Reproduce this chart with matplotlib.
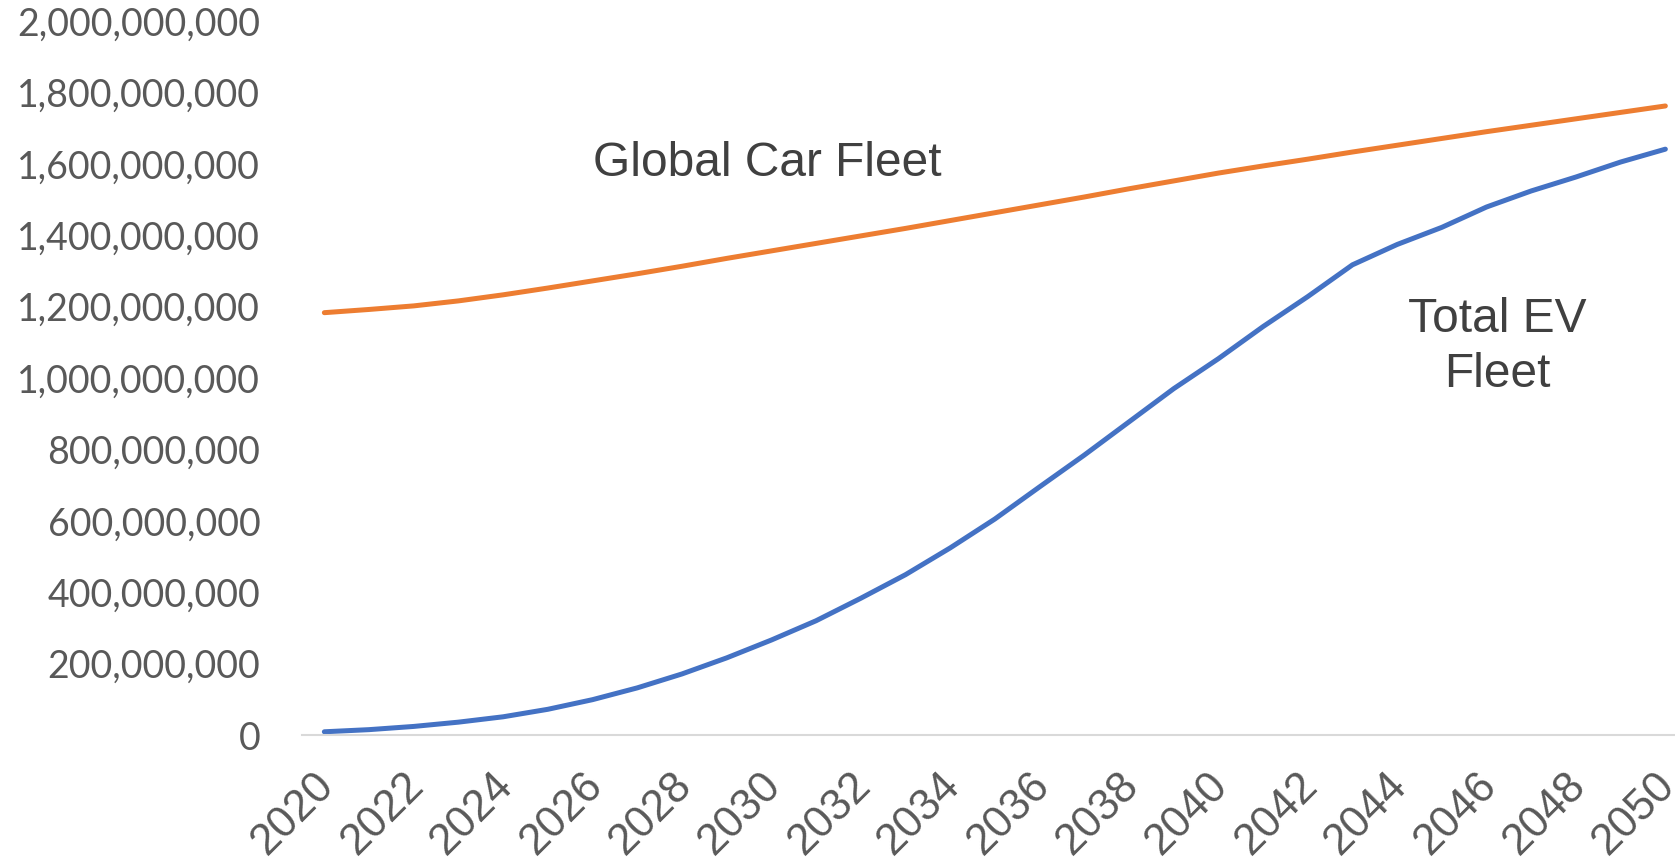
import matplotlib.pyplot as plt
import matplotlib.transforms as mtransforms
from matplotlib.ticker import FuncFormatter, MultipleLocator

years = list(range(2020, 2051))

# Global car fleet, millions of vehicles
global_fleet_m = [1183, 1192, 1202, 1216, 1233, 1252, 1272, 1292, 1313, 1335,
                  1356, 1377, 1398, 1419, 1441, 1463, 1485, 1507, 1530, 1552,
                  1574, 1594, 1613, 1633, 1652, 1671, 1690, 1708, 1726, 1744,
                  1762]

# Total EV fleet, millions of vehicles
ev_fleet_m = [9, 15, 24, 36, 51, 72, 99, 132, 171, 216,
              266, 320, 383, 449, 524, 605, 695, 784, 877, 970,
              1054, 1144, 1228, 1317, 1374, 1422, 1479, 1524, 1563, 1605,
              1641]

xtick_years = list(range(2020, 2051, 2))

global_fleet = [v * 1e6 for v in global_fleet_m]
ev_fleet = [v * 1e6 for v in ev_fleet_m]

W, H = 1675, 859
fig = plt.figure(figsize=(W / 100, H / 100), dpi=100)
ax = fig.add_axes([302 / W, (H - 735) / H, 31 * 44.7 / W, 714 / H])

ax.plot(years, global_fleet, color='#ED7D31', lw=3.6, solid_capstyle='round')
ax.plot(years, ev_fleet, color='#4472C4', lw=3.6, solid_capstyle='round')

ax.set_xlim(2019.5, 2050.5)
ax.set_ylim(0, 2e9)
ax.yaxis.set_major_locator(MultipleLocator(2e8))
ax.yaxis.set_major_formatter(FuncFormatter(lambda v, p: f'{int(round(v)):,}'))
ax.set_xticks(xtick_years)

for side in ['top', 'right', 'left']:
    ax.spines[side].set_visible(False)
ax.spines['bottom'].set_color('#d9d9d9')
ax.spines['bottom'].set_linewidth(1.5)

ax.tick_params(axis='y', length=0, pad=30, labelsize=27, labelcolor='#595959')
ax.tick_params(axis='x', length=0, pad=21.5, labelsize=31.5, labelcolor='#595959')
for lbl in ax.get_yticklabels():
    lbl.set_family(['Lato', 'DejaVu Sans'])

# rotated year labels, nudged left so their tops sit under the ticks
shift = mtransforms.ScaledTranslation(-11 / 100, 0, fig.dpi_scale_trans)
for lbl in ax.get_xticklabels():
    lbl.set_family(['Liberation Sans', 'DejaVu Sans'])
    lbl.set_rotation(45)
    lbl.set_ha('right')
    lbl.set_va('top')
    lbl.set_rotation_mode('anchor')
    lbl.set_transform(lbl.get_transform() + shift)

ax.text(2029.9, 1.60e9, 'Global Car Fleet', fontsize=34.5, color='#404040',
        family='Liberation Sans', ha='center', va='center')
ax.text(2046.25, 1.087e9, 'Total EV\nFleet', fontsize=34.5, color='#404040',
        family='Liberation Sans', ha='center', va='center', linespacing=1.27)

fig.savefig('out.png', dpi=100)
